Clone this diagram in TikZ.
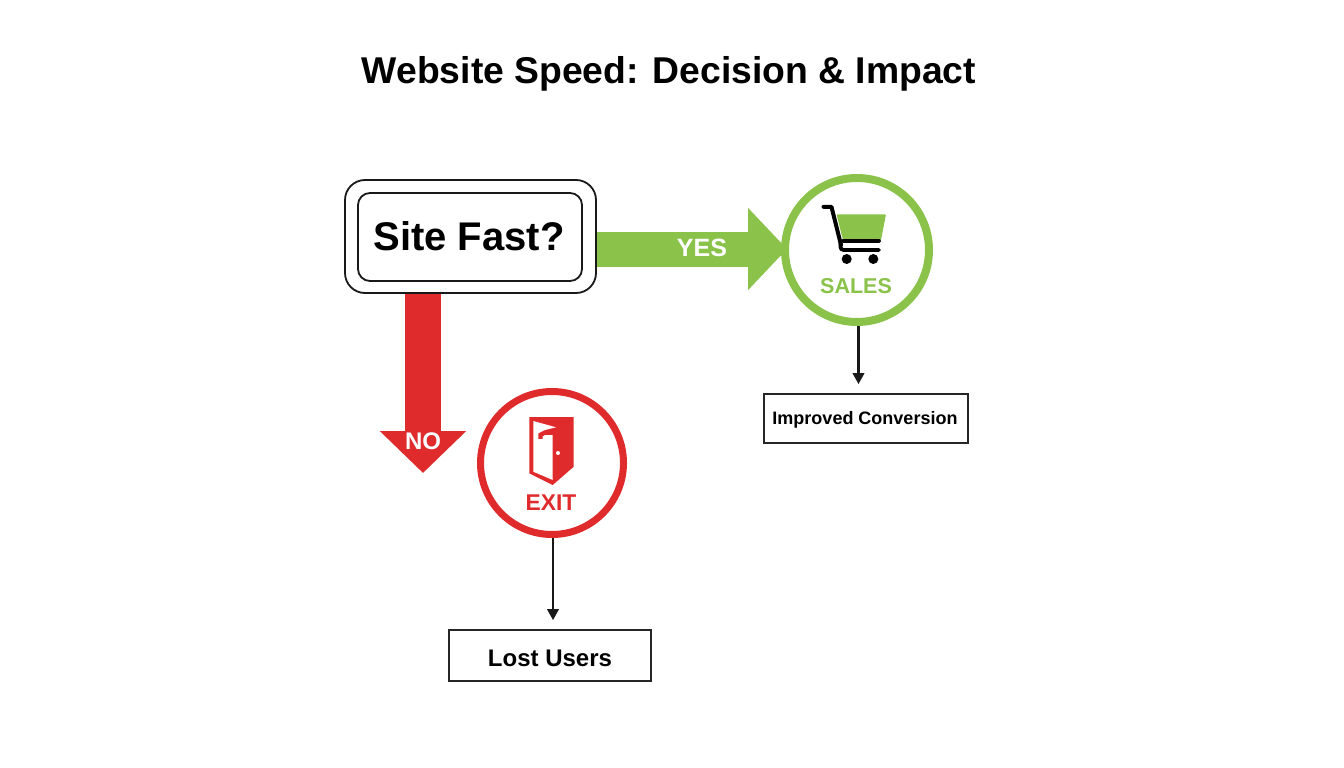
\documentclass[tikz,border=0pt]{standalone}
\usepackage{fontspec}
\setmainfont{Liberation Sans}
\usetikzlibrary{arrows.meta}
\definecolor{gr}{HTML}{8BC34A}
\definecolor{rd}{HTML}{E02B2D}
\tikzset{
  x=1pt,y=-1pt,
  txt/.style={inner sep=0pt,outer sep=0pt,font=\bfseries},
  ring/.style={circle,draw=#1,fill=white,inner sep=0pt},
  resultbox/.style={draw=black!85,line width=1.8pt,fill=white,inner sep=0pt},
  sitebox/.style={draw=black!90,line width=1.8pt,rounded corners=#1,fill=white,inner sep=0pt},
  thin arrow/.style={draw=black!90,line width=2.2pt,-{Triangle[length=11pt,width=11.5pt]},shorten >=9pt},
}
\begin{document}
\begin{tikzpicture}
\useasboundingbox (0,0) rectangle (1344,768);
\fill[white] (0,0) rectangle (1344,768);
\node[txt,font=\bfseries\fontsize{37.3}{44}\selectfont] (title) at (669,74) {Website Speed: Decision \& Impact};
\node[sitebox=20pt,minimum width=251pt,minimum height=113pt] (siteouter) at (470.5,236.5) {};
\node[sitebox=12pt,minimum width=224pt,minimum height=88pt] (site) at (470,237) {};
\node[txt,font=\bfseries\fontsize{40}{46}\selectfont] (sitetext) at (469,236) {Site Fast?};
\coordinate (notip) at (423,473);
\draw[gr,line width=35pt,-{Triangle[length=39pt,width=80pt]}] ([yshift=-12.5pt]siteouter.east) -- (787,249);
\draw[rd,line width=36pt,-{Triangle[length=42pt,width=84pt]}] ([xshift=-47.5pt]siteouter.south) -- (notip);
\node[ring=gr,line width=8pt,minimum size=144pt] (sales) at (857,250) {};
\node[ring=rd,line width=7pt,minimum size=143pt] (exit) at (552,463) {};
\node[txt,white,font=\bfseries\fontsize{25}{30}\selectfont] (yes) at (702,248) {YES};
\node[txt,white,font=\bfseries\fontsize{24}{30}\selectfont] (no) at (423,441) {NO};
\node[txt,gr,font=\bfseries\fontsize{21.5}{28}\selectfont] (salest) at (856,286) {SALES};
\node[txt,rd,font=\bfseries\fontsize{22.8}{28}\selectfont] (exitt) at (551,503) {EXIT};
% cart
\fill[gr,rounded corners=1pt] (836.5,214.3) -- (886,214.3) -- (881,240) -- (843,240) -- cycle;
\draw[black,line width=4pt,line cap=round,line join=round] (823.5,206.8) -- (831.5,206.8) -- (841,245);
\draw[black,line width=3.8pt,line cap=round] (843,240.8) -- (879,240.8);
\draw[black,line width=3.8pt,line cap=round,rounded corners=3pt] (840.5,243) -- (840.5,250) -- (879,250);
\fill[black] (846.7,259) circle (5pt) (873.3,259) circle (5pt);
% door
\fill[rd] (529.3,417) -- (573.7,417) -- (573.7,466.7) -- (552.7,485) -- (529.3,473.3) -- cycle;
\fill[white] (533.3,421) -- (556,427.3) -- (545,430) -- (538.3,433.3) -- (538.3,439) -- (542.7,439) -- (542.7,436.7) -- (545,435) -- (552.7,435) -- (552.7,480) -- (533.3,471.7) -- cycle;
\fill[white] (558,453) circle (2pt);
% results
\node[resultbox,minimum width=204pt,minimum height=49pt] (improved) at (866,418.5) {};
\node[txt,font=\bfseries\fontsize{18}{22}\selectfont] (improvedt) at (865,420) {Improved Conversion};
\node[resultbox,minimum width=202pt,minimum height=51pt] (lost) at (550,655.5) {};
\node[txt,font=\bfseries\fontsize{24}{28}\selectfont] (lostt) at (550,658) {Lost Users};
\draw[thin arrow] ([xshift=1.5pt]sales.south) -- ([xshift=1.5pt]sales.south |- improved.north);
\draw[thin arrow] ([xshift=1pt]exit.south) -- ([xshift=1pt]exit.south |- lost.north);
\end{tikzpicture}
\end{document}
